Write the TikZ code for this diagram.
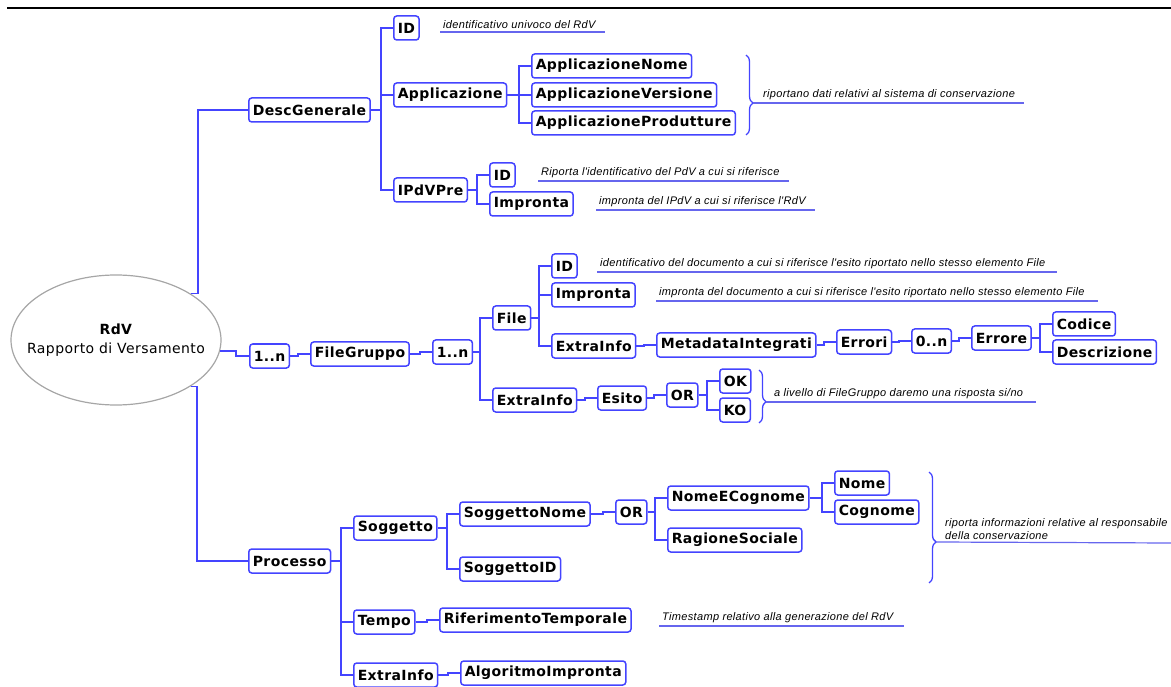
\documentclass[tikz,border=0pt]{standalone}
\usepackage{fontspec}
\usepackage{tikz}
\usetikzlibrary{decorations.pathreplacing,shapes.geometric}
\definecolor{boxblue}{HTML}{4444FF}
\definecolor{noteblue}{HTML}{6666EE}
\newfontfamily\boxfont[LetterSpace=3]{DejaVu Sans}
\newfontfamily\notefont[LetterSpace=3]{Liberation Sans}

\begin{document}
\begin{tikzpicture}[
    x=1pt, y=-1pt,
    every node/.style={inner sep=0pt},
    elem/.style={draw=boxblue, line width=1.5pt, rounded corners=3pt, fill=white, anchor=west,
      font=\boxfont\bfseries\fontsize{14}{16}\selectfont, minimum height=24pt, inner xsep=4pt},
    root/.style={ellipse, draw=gray!70, line width=1.2pt, fill=white, minimum width=210pt,
      minimum height=130pt, inner xsep=-40pt, align=center, font=\boxfont\fontsize{14}{19}\selectfont},
    note/.style={anchor=south west, font=\notefont\itshape\fontsize{11}{13}\selectfont,
      inner xsep=3pt, inner ysep=3pt, align=left},
    link/.style={draw=boxblue, line width=1.5pt},
    uline/.style={draw=noteblue, line width=1.2pt},
    bus/.style={to path={-| ([xshift=-#1]\tikztotarget) -- (\tikztotarget)}},
    bus/.default=12pt,
    curly/.style={draw=boxblue, line width=1.3pt, decorate, decoration={brace, amplitude=7pt, aspect=#1}}
    ]
  \useasboundingbox (0,0) rectangle (1171,687);
  \draw[line width=1.5pt] (7,8) -- (1171,8);

  \node[root] (root) at (116,340) {\textbf{RdV}\\Rapporto di Versamento}; % root

  % DescGenerale
  \node[elem] (desc) at (248,110) {DescGenerale};
  \node[elem] (id1) at (393,28) {ID};
  \node[elem] (app) at (393,95) {Applicazione};
  \node[elem] (appnome) at (531,66) {ApplicazioneNome};
  \node[elem] (appvers) at (531,95) {ApplicazioneVersione};
  \node[elem] (appprod) at (531,123) {ApplicazioneProdutture};
  \node[elem] (ipdv) at (393,190) {IPdVPre};
  \node[elem] (idpdv) at (489,175) {ID};
  \node[elem] (imppdv) at (489,204) {Impronta};

  % FileGruppo
  \node[elem] (n1) at (249,356) {1..n};
  \node[elem] (fg) at (310,354) {FileGruppo};
  \node[elem] (n2) at (432,352) {1..n};
  \node[elem] (file) at (492,318) {File};
  \node[elem] (xfg) at (492,400) {ExtraInfo};
  \node[elem] (idf) at (551,266) {ID};
  \node[elem] (impf) at (551,295) {Impronta};
  \node[elem] (xf) at (551,346) {ExtraInfo};
  \node[elem] (meta) at (656,345) {MetadataIntegrati};
  \node[elem] (errori) at (836,342) {Errori};
  \node[elem] (zn) at (911,341) {0..n};
  \node[elem] (errore) at (971,338) {Errore};
  \node[elem] (codice) at (1052,324) {Codice};
  \node[elem] (descr) at (1052,352) {Descrizione};
  \node[elem] (esito) at (597,398) {Esito};
  \node[elem] (or1) at (666,395) {OR};
  \node[elem] (ok) at (719,381) {OK};
  \node[elem] (ko) at (719,410) {KO};

  % Processo
  \node[elem] (proc) at (248,561) {Processo};
  \node[elem] (sogg) at (353,528) {Soggetto};
  \node[elem] (snome) at (459,514) {SoggettoNome};
  \node[elem] (sid) at (459,569) {SoggettoID};
  \node[elem] (or2) at (615,512) {OR};
  \node[elem] (nec) at (667,498) {NomeECognome};
  \node[elem] (rag) at (667,540) {RagioneSociale};
  \node[elem] (nome) at (834,483) {Nome};
  \node[elem] (cogn) at (834,512) {Cognome};
  \node[elem] (tempo) at (353,622) {Tempo};
  \node[elem] (rif) at (439,620) {RiferimentoTemporale};
  \node[elem] (xp) at (353,675) {ExtraInfo};
  \node[elem] (algo) at (460,673) {AlgoritmoImpronta};

  \draw[link] (root.north east) edge[bus=50pt] (desc.west)
              (root.-6) edge[bus=13pt] (n1.west)
              (root.south east) edge[bus=51pt] (proc.west);
  \draw[link] (desc.east) edge[bus] (id1.west) edge[bus] (app.west) edge[bus] (ipdv.west);
  \draw[link] (app.east) edge[bus] (appnome.west) edge[bus] (appvers.west) edge[bus] (appprod.west);
  \draw[link] (ipdv.east) edge[bus] (idpdv.west) edge[bus] (imppdv.west);
  \draw[link] (n1.east) edge[bus] (fg.west);
  \draw[link] (fg.east) edge[bus] (n2.west);
  \draw[link] (n2.east) edge[bus] (file.west) edge[bus] (xfg.west);
  \draw[link] (file.east) edge[bus] (idf.west) edge[bus] (impf.west) edge[bus] (xf.west);
  \draw[link] (xf.east) edge[bus] (meta.west);
  \draw[link] (meta.east) edge[bus] (errori.west);
  \draw[link] (errori.east) edge[bus] (zn.west);
  \draw[link] (zn.east) edge[bus] (errore.west);
  \draw[link] (errore.east) edge[bus] (codice.west) edge[bus] (descr.west);
  \draw[link] (xfg.east) edge[bus] (esito.west);
  \draw[link] (esito.east) edge[bus] (or1.west);
  \draw[link] (or1.east) edge[bus] (ok.west) edge[bus] (ko.west);
  \draw[link] (proc.east) edge[bus] (sogg.west) edge[bus] (tempo.west) edge[bus] (xp.west);
  \draw[link] (sogg.east) edge[bus] (snome.west) edge[bus] (sid.west);
  \draw[link] (snome.east) edge[bus] (or2.west);
  \draw[link] (or2.east) edge[bus] (nec.west) edge[bus] (rag.west);
  \draw[link] (nec.east) edge[bus] (nome.west) edge[bus] (cogn.west);
  \draw[link] (tempo.east) edge[bus] (rif.west);
  \draw[link] (xp.east) edge[bus] (algo.west);

  % braces
  \draw[curly=0.6] (746,55) -- (746,135);
  \coordinate (tip1) at (753,103);
  \draw[curly=0.6] (759,370) -- (759,423);
  \coordinate (tip2) at (766,402);
  \draw[curly=0.63] (929,472) -- (929,583);
  \coordinate (tip3) at (936,542);

  % notes
  \node[note] (nid1) at (440,32) {identificativo univoco del RdV};
  \node[note] (napp) at (760,103) {riportano dati relativi al sistema di conservazione};
  \node[note] (nidpdv) at (538,181) {Riporta l'identificativo del PdV a cui si riferisce};
  \node[note] (nimppdv) at (596,210) {impronta del IPdV a cui si riferisce l'RdV};
  \node[note] (nidf) at (597,272) {identificativo del documento a cui si riferisce l'esito riportato nello stesso elemento File};
  \node[note] (nimpf) at (656,301) {impronta del documento a cui si riferisce l'esito riportato nello stesso elemento File};
  \node[note] (nok) at (771,402) {a livello di FileGruppo daremo una risposta si/no};
  \node[note] (nsogg) at (942,543) {riporta informazioni relative al responsabile\\della conservazione};
  \node[note] (ntime) at (659,626) {Timestamp relativo alla generazione del RdV};

  \draw[uline] (nid1.south west) -- ([xshift=6pt]nid1.south east);
  \draw[uline] (tip1) -- ([xshift=6pt]napp.south east);
  \draw[uline] (nidpdv.south west) -- ([xshift=6pt]nidpdv.south east);
  \draw[uline] (nimppdv.south west) -- ([xshift=6pt]nimppdv.south east);
  \draw[uline] (nidf.south west) -- ([xshift=8pt]nidf.south east);
  \draw[uline] (nimpf.south west) -- ([xshift=10pt]nimpf.south east);
  \draw[uline] (tip2) -- ([xshift=10pt]nok.south east);
  \draw[uline] (tip3) -- (1171,543);
  \draw[uline] (ntime.south west) -- ([xshift=8pt]ntime.south east);
\end{tikzpicture}
\end{document}
